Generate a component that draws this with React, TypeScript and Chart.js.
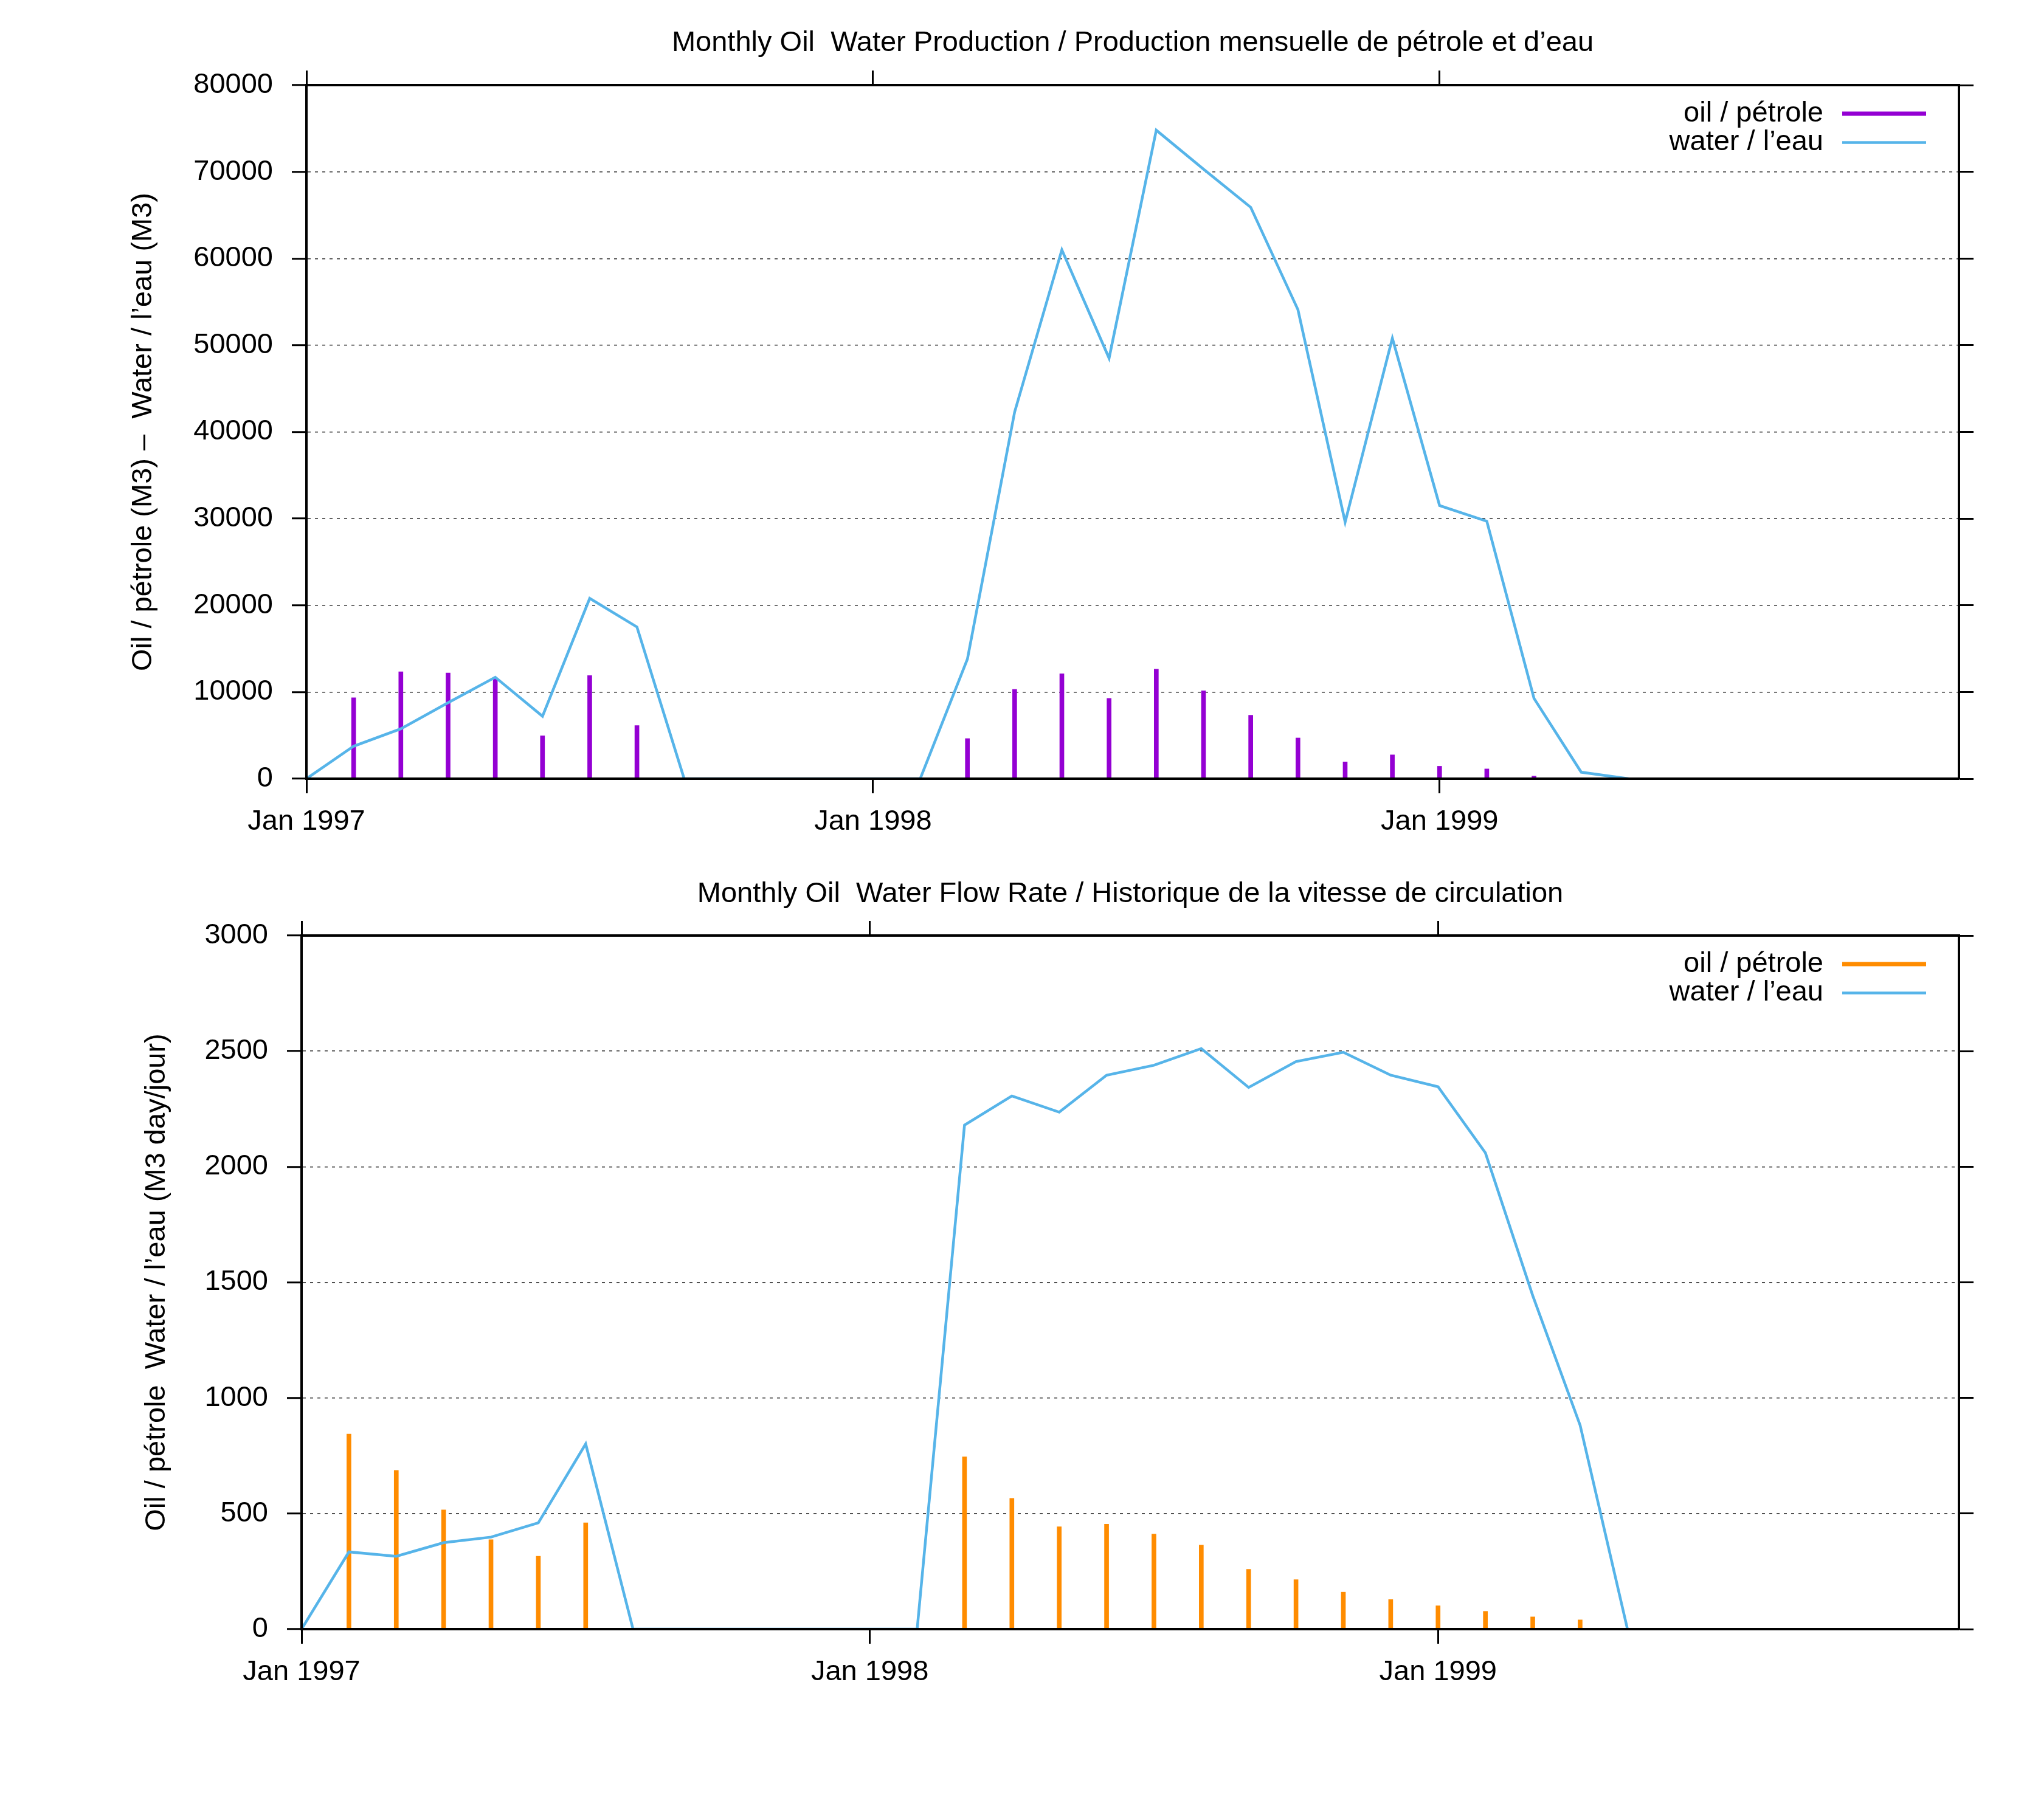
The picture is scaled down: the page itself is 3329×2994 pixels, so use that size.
import { useEffect, useRef } from "react";
import { Chart, registerables } from "chart.js";

Chart.register(...registerables);

const FONT = '"Liberation Sans", Arial, Helvetica, sans-serif';
const FONT_SIZE = 47;
Chart.defaults.font.family = FONT;
Chart.defaults.color = "#000";

// months with data, Jan 1997 .. May 1999
const months = [
  "1997-01", "1997-02", "1997-03", "1997-04", "1997-05", "1997-06",
  "1997-07", "1997-08", "1997-09", "1997-10", "1997-11", "1997-12",
  "1998-01", "1998-02", "1998-03", "1998-04", "1998-05", "1998-06",
  "1998-07", "1998-08", "1998-09", "1998-10", "1998-11", "1998-12",
  "1999-01", "1999-02", "1999-03", "1999-04", "1999-05",
];
const axisStart = "1997-01";
const axisEnd = "1999-12";
const yearTicks = ["1997-01", "1998-01", "1999-01"];
const yearTickLabels = ["Jan 1997", "Jan 1998", "Jan 1999"];

// monthly volumes (M3)
const oilVolume = [
  null, 9330, 12330, 12200, 11600, 4950, 11900, 6130, null, null, null, null,
  null, null, 4630, 10300, 12100, 9260, 12640, 10140, 7320, 4700, 1940, 2750,
  1440, 1130, 300, null, null,
];
const waterVolume = [
  0, 3750, 5760, 8760, 11700, 7200, 20800, 17500, 0, 0, 0, 0,
  0, 0, 13800, 42300, 61000, 48500, 74800, 70300, 65900, 54100, 29600, 50800,
  31500, 29700, 9260, 750, 0,
];

// flow rates (M3 day/jour)
const oilRate = [
  null, 844, 687, 516, 387, 315, 460, null, null, null, null, null,
  null, null, 745, 566, 443, 454, 411, 363, 259, 214, 160, 128,
  101, 77, 53, 40, null,
];
const waterRate = [
  0, 334, 315, 374, 398, 460, 801, 0, 0, 0, 0, 0,
  0, 0, 2180, 2306, 2236, 2396, 2439, 2511, 2343, 2455, 2495, 2396,
  2346, 2060, 1442, 882, 0,
];

const WIDTH = 3329;

function monthIndex(m: string) {
  const [y, mo] = m.split("-").map(Number);
  const [y0, m0] = axisStart.split("-").map(Number);
  return (y - y0) * 12 + (mo - m0);
}

function toPoints(values: (number | null)[]) {
  return months
    .map((m, i) => ({ x: monthIndex(m), y: values[i] }))
    .filter((p) => p.y !== null);
}

// gnuplot-style key: right-aligned label, then a line sample
const keyPlugin = {
  id: "key",
  afterDraw(chart: any) {
    const { ctx, chartArea } = chart;
    ctx.save();
    ctx.font = `${FONT_SIZE}px ${FONT}`;
    ctx.textAlign = "right";
    ctx.textBaseline = "middle";
    ctx.fillStyle = "#000";
    chart.data.datasets.forEach((ds: any, i: number) => {
      const y = chartArea.top + 47 + i * 47.5;
      ctx.fillText(ds.label, chartArea.right - 223, y);
      ctx.strokeStyle = ds.borderColor ?? ds.backgroundColor;
      ctx.lineWidth = ds.barThickness ?? ds.borderWidth;
      ctx.beginPath();
      ctx.moveTo(chartArea.right - 192, y);
      ctx.lineTo(chartArea.right - 54, y);
      ctx.stroke();
    });
    ctx.restore();
  },
};

type PanelProps = {
  title: string;
  yTitle: string;
  yMax: number;
  yStep: number;
  oil: (number | null)[];
  water: (number | null)[];
  oilColor: string;
  height: number;
  plotLeft: number;
  plotTop: number;
  plotBottom: number;
  yTitleX: number;
};

function Panel(props: PanelProps) {
  const canvasRef = useRef<HTMLCanvasElement>(null);

  useEffect(() => {
    const { yMax, yStep, height, plotLeft, plotTop, plotBottom } = props;
    const plotRight = 3222;
    const xMax = monthIndex(axisEnd);
    const halfLine = (FONT_SIZE * 1.2) / 2;
    const setYearTicks = (axis: any) => {
      axis.ticks = yearTicks.map((m) => ({ value: monthIndex(m) }));
    };
    const titlePad = { top: 71 - halfLine, bottom: 10 };
    const titleHeight = titlePad.top + titlePad.bottom + halfLine * 2;

    const gridColor = (c: any) =>
      c.tick && (c.tick.value === 0 || c.tick.value === yMax)
        ? "rgba(0,0,0,0)"
        : "rgba(0,0,0,0.8)";

    const tickGrid = {
      offset: false,
      drawOnChartArea: false,
      tickLength: 24,
      tickWidth: 3,
      tickColor: "#000",
    };
    const frame = { width: 4, color: "#000", z: 1 };

    const chart = new Chart(canvasRef.current!, {
      type: "bar",
      data: {
        datasets: [
          {
            type: "bar",
            label: "oil / pétrole",
            data: toPoints(props.oil) as any,
            backgroundColor: props.oilColor,
            barThickness: 7,
            borderWidth: 0,
            order: 1,
          } as any,
          {
            type: "line",
            label: "water / l’eau",
            data: toPoints(props.water) as any,
            borderColor: "#56b4e9",
            borderWidth: 4.5,
            pointRadius: 0,
            tension: 0,
            order: 0,
          },
        ],
      },
      options: {
        animation: false,
        responsive: false,
        devicePixelRatio: 1,
        layout: { padding: 0 },
        plugins: {
          legend: { display: false },
          tooltip: { enabled: false },
          title: {
            display: true,
            text: props.title,
            fullSize: false,
            font: { size: FONT_SIZE, weight: "normal" },
            padding: titlePad,
            color: "#000",
          },
        },
        scales: {
          x: {
            type: "linear",
            position: "bottom",
            min: 0,
            max: xMax,
            offset: false,
            afterBuildTicks: setYearTicks,
            afterFit: (s: any) => {
              s.height = height - plotBottom;
            },
            ticks: {
              font: { size: FONT_SIZE },
              padding: 71 - 24 - halfLine,
              maxRotation: 0,
              callback: (v: any) => yearTickLabels[yearTicks.findIndex((m) => monthIndex(m) === v)],
            },
            grid: tickGrid,
            border: frame,
          },
          x2: {
            type: "linear",
            position: "top",
            min: 0,
            max: xMax,
            offset: false,
            afterBuildTicks: setYearTicks,
            afterFit: (s: any) => {
              s.height = plotTop - titleHeight;
            },
            ticks: { display: false },
            grid: tickGrid,
            border: frame,
          },
          y: {
            type: "linear",
            position: "left",
            min: 0,
            max: yMax,
            afterFit: (s: any) => {
              s.width = plotLeft;
            },
            ticks: {
              stepSize: yStep,
              font: { size: FONT_SIZE },
              padding: 31,
              callback: (v: any) => String(v),
            },
            grid: {
              color: gridColor,
              lineWidth: 1.5,
              tickLength: 24,
              tickWidth: 3,
              tickColor: "#000",
            },
            border: { ...frame, dash: [5, 7] },
            title: {
              display: true,
              text: props.yTitle,
              font: { size: FONT_SIZE },
              padding: { top: props.yTitleX - halfLine },
              color: "#000",
            },
          },
          y2: {
            type: "linear",
            position: "right",
            min: 0,
            max: yMax,
            afterFit: (s: any) => {
              s.width = WIDTH - plotRight;
            },
            ticks: { stepSize: yStep, display: false },
            grid: tickGrid,
            border: frame,
          },
        },
      },
      plugins: [keyPlugin],
    });

    return () => chart.destroy();
  }, []);

  return (
    <canvas
      ref={canvasRef}
      width={WIDTH}
      height={props.height}
      style={{ display: "block", width: WIDTH, height: props.height }}
    ></canvas>
  );
}

export default function App() {
  return (
    <div style={{ position: "absolute", left: 0, top: 0, width: WIDTH, height: 2994, background: "#fff" }}>
      <Panel
        title="Monthly Oil  Water Production / Production mensuelle de pétrole et d’eau"
        yTitle="Oil / pétrole (M3) –  Water / l’eau (M3)"
        yMax={80000}
        yStep={10000}
        oil={oilVolume}
        water={waterVolume}
        oilColor="#9400d3"
        height={1400}
        plotLeft={504}
        plotTop={140}
        plotBottom={1281}
        yTitleX={236}
      />
      <Panel
        title="Monthly Oil  Water Flow Rate / Historique de la vitesse de circulation"
        yTitle="Oil / pétrole  Water / l’eau (M3 day/jour)"
        yMax={3000}
        yStep={500}
        oil={oilRate}
        water={waterRate}
        oilColor="#ff8c00"
        height={1594}
        plotLeft={496}
        plotTop={139}
        plotBottom={1280}
        yTitleX={258}
      />
    </div>
  );
}
